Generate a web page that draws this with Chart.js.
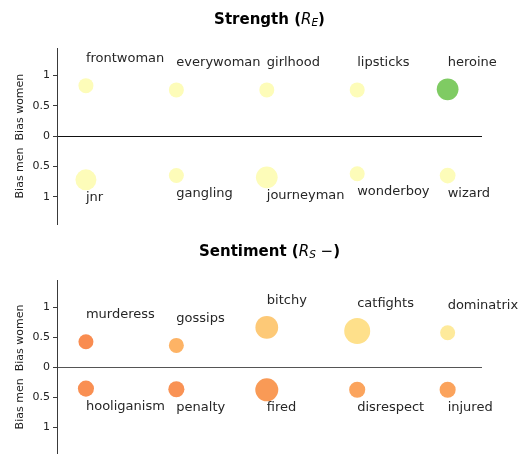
<!DOCTYPE html>
<html>
<head>
<meta charset="utf-8">
<script src="https://cdn.jsdelivr.net/npm/chart.js@4.4.1/dist/chart.umd.min.js"></script>
<style>
  html, body { margin: 0; padding: 0; background: #fff; overflow: hidden; }
  #wrap { position: relative; width: 531px; height: 454px; overflow: hidden; }
  canvas { position: absolute; left: 0; }
  #strengthChart { top: 0; }
  #sentimentChart { top: 232px; }
</style>
</head>
<body>
<div id="wrap">
  <canvas id="strengthChart" width="531" height="235"></canvas>
  <canvas id="sentimentChart" width="531" height="235"></canvas>
</div>
<script>
// --- data -------------------------------------------------------------
const xPositions = [0, 1, 2, 3, 4];
const yTicks = [-1, -0.5, 0, 0.5, 1];

// Strength (R_E)
const strengthWomenWords  = ['frontwoman', 'everywoman', 'girlhood', 'lipsticks', 'heroine'];
const strengthWomenBias   = [0.83, 0.76, 0.76, 0.76, 0.77];
const strengthWomenWeight = [1.0, 1.0, 1.0, 1.0, 2.1];
const strengthMenWords    = ['jnr', 'gangling', 'journeyman', 'wonderboy', 'wizard'];
const strengthMenBias     = [-0.72, -0.65, -0.68, -0.62, -0.65];
const strengthMenWeight   = [1.95, 1.0, 2.1, 1.0, 1.1];

// Sentiment (R_S -)
const sentimentWomenWords  = ['murderess', 'gossips', 'bitchy', 'catfights', 'dominatrix'];
const sentimentWomenBias   = [0.42, 0.36, 0.66, 0.60, 0.57];
const sentimentWomenWeight = [1.0, 1.0, 2.3, 3.0, 1.0];
const sentimentMenWords    = ['hooliganism', 'penalty', 'fired', 'disrespect', 'injured'];
const sentimentMenBias     = [-0.36, -0.37, -0.38, -0.38, -0.38];
const sentimentMenWeight   = [1.15, 1.15, 2.35, 1.15, 1.15];

// --- colours ----------------------------------------------------------
const strengthWomenColors  = ['#fdfcb9', '#fdfcb9', '#fdfcb9', '#fdfcb9', '#7fcb63'];
const strengthMenColors    = ['#fdfcb9', '#fdfcb9', '#fdfcb9', '#fdfcb9', '#fdfcb9'];
const sentimentWomenColors = ['#f98c50', '#fdb365', '#fdc977', '#fee08b', '#feea9b'];
const sentimentMenColors   = ['#f98f52', '#f99254', '#f99a56', '#fba45d', '#fba35c'];

const FONT = "'DejaVu Sans', 'Liberation Sans', sans-serif";

function radius(w) {
  return 7.5 * Math.sqrt(w);
}

function points(bias, weight) {
  return xPositions.map((x, i) => ({ x: x, y: bias[i], r: radius(weight[i]) }));
}

// title with a little math part, drawn as text runs centred on the axes
const mathTitle = {
  id: 'mathTitle',
  afterDraw(chart, args, opts) {
    const ctx = chart.ctx;
    const area = chart.chartArea;
    let total = 0;
    opts.runs.forEach(r => { ctx.font = r.font; total += ctx.measureText(r.text).width; });
    let x = (area.left + area.right) / 2 - total / 2;
    ctx.save();
    ctx.fillStyle = '#000';
    ctx.textBaseline = 'middle';
    ctx.textAlign = 'left';
    opts.runs.forEach(r => {
      ctx.font = r.font;
      ctx.fillText(r.text, x, opts.y + (r.dy || 0));
      x += ctx.measureText(r.text).width;
    });
    ctx.restore();
  }
};

// word labels next to each bubble
const wordLabels = {
  id: 'wordLabels',
  afterDatasetsDraw(chart) {
    const ctx = chart.ctx;
    ctx.save();
    ctx.font = '13px ' + FONT;
    ctx.fillStyle = '#262626';
    ctx.textAlign = 'left';
    ctx.textBaseline = 'middle';
    chart.data.datasets.forEach((ds, di) => {
      const meta = chart.getDatasetMeta(di);
      meta.data.forEach((pt, i) => {
        const dy = ds.side === 'up' ? -27 : 18;
        ctx.fillText(ds.words[i], pt.x, pt.y + dy);
      });
    });
    ctx.restore();
  }
};

function makeChart(id, titleRuns, zeroColor, women, men) {
  const ctx = document.getElementById(id).getContext('2d');
  return new Chart(ctx, {
    type: 'bubble',
    data: {
      datasets: [
        {
          label: 'women',
          words: women.words,
          side: 'up',
          data: points(women.bias, women.weight),
          backgroundColor: women.colors,
          borderWidth: 0,
        },
        {
          label: 'men',
          words: men.words,
          side: 'down',
          data: points(men.bias, men.weight),
          backgroundColor: men.colors,
          borderWidth: 0,
        }
      ]
    },
    options: {
      responsive: false,
      devicePixelRatio: 1,
      animation: false,
      events: [],
      layout: { padding: { top: 48, right: 49, bottom: 0, left: 0 } },
      plugins: {
        legend: { display: false },
        tooltip: { enabled: false },
        title: { display: false },
        mathTitle: { y: 20, runs: titleRuns },
      },
      scales: {
        x: {
          type: 'linear',
          display: false,
          min: -0.32,
          max: 4.38,
        },
        y: {
          type: 'linear',
          min: -1.45,
          max: 1.45,
          afterBuildTicks: scale => {
            scale.ticks = yTicks.map(v => ({ value: v }));
          },
          afterFit: scale => {
            scale.width = 57;
            scale.paddingTop = 0;
            scale.paddingBottom = 0;
          },
          border: { display: true, color: '#3a3a3a', width: 1 },
          grid: {
            drawOnChartArea: true,
            drawTicks: true,
            tickLength: 4,
            tickColor: '#3a3a3a',
            lineWidth: 1,
            color: c => (c.tick && c.tick.value === 0) ? zeroColor : 'rgba(0,0,0,0)',
          },
          ticks: {
            color: '#222',
            padding: 3,
            font: { family: FONT, size: 11 },
            callback: v => String(Math.abs(v)),
          },
          title: {
            display: true,
            text: 'Bias men  Bias women',
            color: '#222',
            font: { family: FONT, size: 11 },
            padding: { top: 14, bottom: 0 },
          },
        },
      },
    },
    plugins: [mathTitle, wordLabels],
  });
}

makeChart('strengthChart',
  [
    { text: 'Strength (', font: 'bold 15px ' + FONT },
    { text: 'R', font: 'italic 15px ' + FONT },
    { text: 'E', font: 'italic 10.5px ' + FONT, dy: 3 },
    { text: ')', font: 'bold 15px ' + FONT },
  ],
  '#111',
  { words: strengthWomenWords, bias: strengthWomenBias, weight: strengthWomenWeight, colors: strengthWomenColors },
  { words: strengthMenWords, bias: strengthMenBias, weight: strengthMenWeight, colors: strengthMenColors }
);

makeChart('sentimentChart',
  [
    { text: 'Sentiment (', font: 'bold 15px ' + FONT },
    { text: 'R', font: 'italic 15px ' + FONT },
    { text: 'S', font: 'italic 10.5px ' + FONT, dy: 3 },
    { text: ' \u2212', font: '15px ' + FONT },
    { text: ')', font: 'bold 15px ' + FONT },
  ],
  '#555',
  { words: sentimentWomenWords, bias: sentimentWomenBias, weight: sentimentWomenWeight, colors: sentimentWomenColors },
  { words: sentimentMenWords, bias: sentimentMenBias, weight: sentimentMenWeight, colors: sentimentMenColors }
);
</script>
</body>
</html>
